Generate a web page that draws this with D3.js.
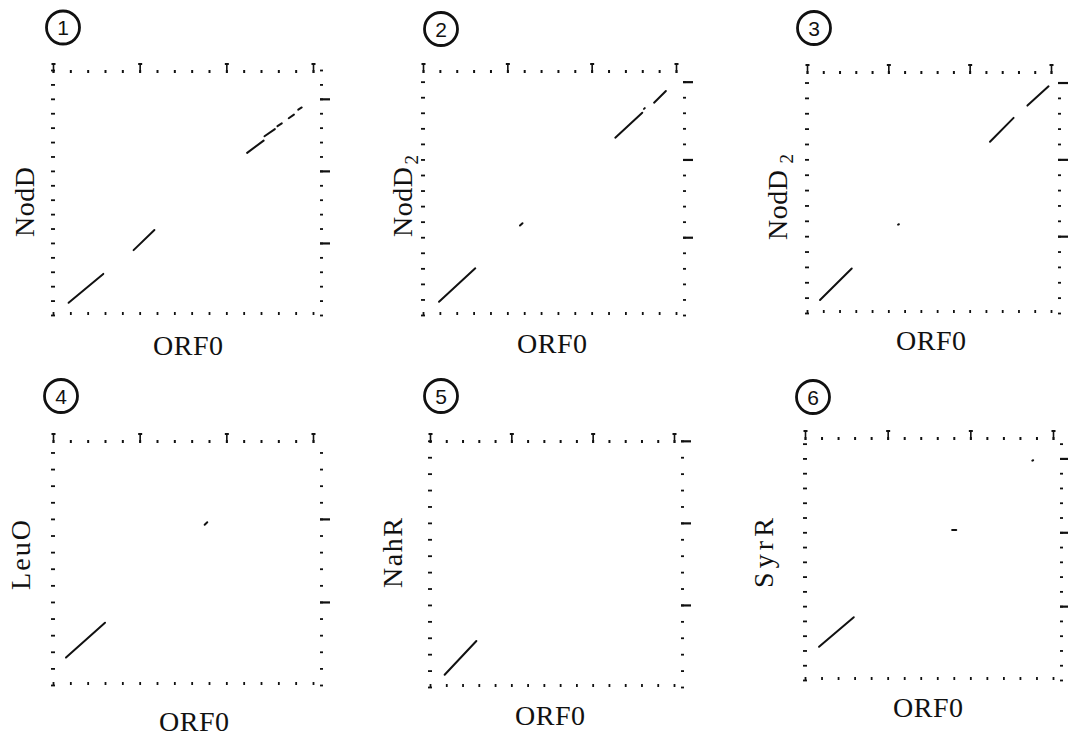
<!DOCTYPE html>
<html>
<head>
<meta charset="utf-8">
<script src="https://cdn.jsdelivr.net/npm/d3@7"></script>
<style>
  body { margin: 0; background: #fff; }
  svg { display: block; }
  .lbl { font-family: "Liberation Serif", "DejaVu Serif", serif; fill: #111; }
  .num { font-family: "Liberation Sans", Arial, sans-serif; fill: #111; }
</style>
</head>
<body>
<div id="chart"></div>
<script>
// Panel data (sequence positions, residues)
const panelNumbers = ['1', '2', '3', '4', '5', '6'];
const xName = 'ORF0';
const yNames = ['NodD', 'NodD', 'NodD', 'LeuO', 'NahR', 'SyrR'];
const ySubs = ['', '2', '2', '', '', ''];
const xLength = 300;
const yLengths = [340, 315, 315, 295, 301, 329];
const minorTicksX = [0, 20, 40, 60, 80, 100, 120, 140, 160, 180, 200, 220, 240, 260, 280, 300];
const majorTicksX = [0, 100, 200, 300];
const minorTicksY = [0, 20, 40, 60, 80, 100, 120, 140, 160, 180, 200, 220, 240, 260, 280, 300, 320, 340];
const majorTicksY = [100, 200, 300];

// matching segments: [x1, y1, x2, y2]
const segs1 = [[18, 17, 58, 57], [93, 90, 117, 118], [224, 225, 243, 242], [244, 248, 256, 258],
               [259, 262, 264, 266], [272, 273, 278, 278], [283, 285, 287, 288]];
const segs2 = [[19, 17, 62, 60], [115, 115, 118, 118], [228, 228, 260, 260], [262, 265, 263, 266],
               [274, 273, 288, 288]];
const segs3 = [[16, 17, 55, 58], [112, 115, 113, 115.5], [225, 223, 254, 254], [271, 270, 297, 295]];
const segs4 = [[15, 33, 60, 75], [175, 193, 178, 196]];
const segs5 = [[18, 15, 57, 56]];
const segs6 = [[17, 45, 59, 85], [178, 203, 183, 203], [275, 297, 276, 297.5]];
const segments = [segs1, segs2, segs3, segs4, segs5, segs6];

// Layout of each panel on the page
const layout = [
    { x0: 53, x1: 313, y0: 70, y1: 315, cx: 63, cy: 27.5, lx: 188, ly: 355, yx: 34, yy: 237 },
    { x0: 423, x1: 676, y0: 70, y1: 315, cx: 441, cy: 29, lx: 552, ly: 353, yx: 412, yy: 237 },
    { x0: 807, x1: 1051, y0: 71, y1: 313, cx: 814, cy: 28, lx: 931, ly: 350, yx: 787, yy: 240 },
    { x0: 53, x1: 313, y0: 440, y1: 685, cx: 61, cy: 396, lx: 194, ly: 731, yx: 30, yy: 590 },
    { x0: 430, x1: 674, y0: 440, y1: 687, cx: 441, cy: 396, lx: 550, ly: 725, yx: 402, yy: 588 },
    { x0: 805, x1: 1053, y0: 437, y1: 680, cx: 813, cy: 397, lx: 928, ly: 717, yx: 773, yy: 588 }
];

const svg = d3.select('#chart')
    .append('svg')
    .attr('width', 1068)
    .attr('height', 740);

function styleTicks(g, width) {
    g.select('.domain').remove();
    g.selectAll('text').remove();
    g.selectAll('.tick line')
        .attr('stroke', '#111')
        .attr('stroke-width', width);
}

panelNumbers.forEach((num, i) => {
    const L = layout[i];
    const yMax = yLengths[i];
    const g = svg.append('g');

    const x = d3.scaleLinear().domain([0, xLength]).range([L.x0, L.x1]);
    const y = d3.scaleLinear().domain([0, yMax]).range([L.y1, L.y0]);
    const yMinor = minorTicksY.filter(v => v <= yMax);

    // Top axis: small inward marks, majors with a pin
    g.append('g')
        .attr('transform', `translate(0, ${L.y0})`)
        .call(d3.axisTop(x).tickValues(minorTicksX).tickSize(-3))
        .call(s => styleTicks(s, 2));
    g.append('g')
        .attr('transform', `translate(0, ${L.y0 + 3})`)
        .call(d3.axisTop(x).tickValues(majorTicksX).tickSize(9))
        .call(s => styleTicks(s, 1.6));
    g.append('g')
        .attr('transform', `translate(0, ${L.y0 - 5})`)
        .call(d3.axisTop(x).tickValues(majorTicksX).tickSize(2))
        .call(s => styleTicks(s, 4));

    // Bottom axis
    g.append('g')
        .attr('transform', `translate(0, ${L.y1})`)
        .call(d3.axisBottom(x).tickValues(minorTicksX).tickSize(-3))
        .call(s => styleTicks(s, 1.8));

    // Left axis: short dashes
    g.append('g')
        .attr('transform', `translate(${L.x0 + 2}, 0)`)
        .call(d3.axisLeft(y).tickValues(yMinor).tickSize(4))
        .call(s => styleTicks(s, 1.8));

    // Right axis: dashes, longer at majors
    g.append('g')
        .attr('transform', `translate(${L.x1 + 7}, 0)`)
        .call(d3.axisRight(y).tickValues(yMinor).tickSize(3))
        .call(s => styleTicks(s, 1.8));
    g.append('g')
        .attr('transform', `translate(${L.x1 + 7}, 0)`)
        .call(d3.axisRight(y).tickValues(majorTicksY.filter(v => v <= yMax)).tickSize(10))
        .call(s => styleTicks(s, 2.2));

    // Matching segments
    g.selectAll('line.seg')
        .data(segments[i])
        .join('line')
        .attr('class', 'seg')
        .attr('x1', d => x(d[0]))
        .attr('y1', d => y(d[1]))
        .attr('x2', d => x(d[2]))
        .attr('y2', d => y(d[3]))
        .attr('stroke', '#111')
        .attr('stroke-width', 2)
        .attr('stroke-linecap', 'round');

    // Circled panel number
    g.append('circle')
        .attr('cx', L.cx)
        .attr('cy', L.cy)
        .attr('r', 16.5)
        .attr('fill', 'none')
        .attr('stroke', '#111')
        .attr('stroke-width', 2.8);
    g.append('text')
        .attr('class', 'num')
        .attr('x', L.cx)
        .attr('y', L.cy + 7.5)
        .attr('text-anchor', 'middle')
        .style('font-size', '21px')
        .text(num);

    // X label
    g.append('text')
        .attr('class', 'lbl')
        .attr('x', L.lx)
        .attr('y', L.ly)
        .attr('text-anchor', 'middle')
        .attr('textLength', 70)
        .attr('lengthAdjust', 'spacing')
        .style('font-size', '28px')
        .text(xName);

    // Y label (rotated), with optional subscript
    const yl = g.append('text')
        .attr('class', 'lbl')
        .attr('transform', `translate(${L.yx}, ${L.yy}) rotate(-90)`)
        .attr('text-anchor', 'start')
        .style('font-size', '28px');
    yl.append('tspan')
        .attr('textLength', 70)
        .attr('lengthAdjust', 'spacing')
        .text(yNames[i]);
    if (ySubs[i]) {
        yl.append('tspan')
            .attr('dy', 6)
            .attr('dx', i === 2 ? 6 : 2)
            .style('font-size', '19px')
            .text(ySubs[i]);
    }
});
</script>
</body>
</html>
